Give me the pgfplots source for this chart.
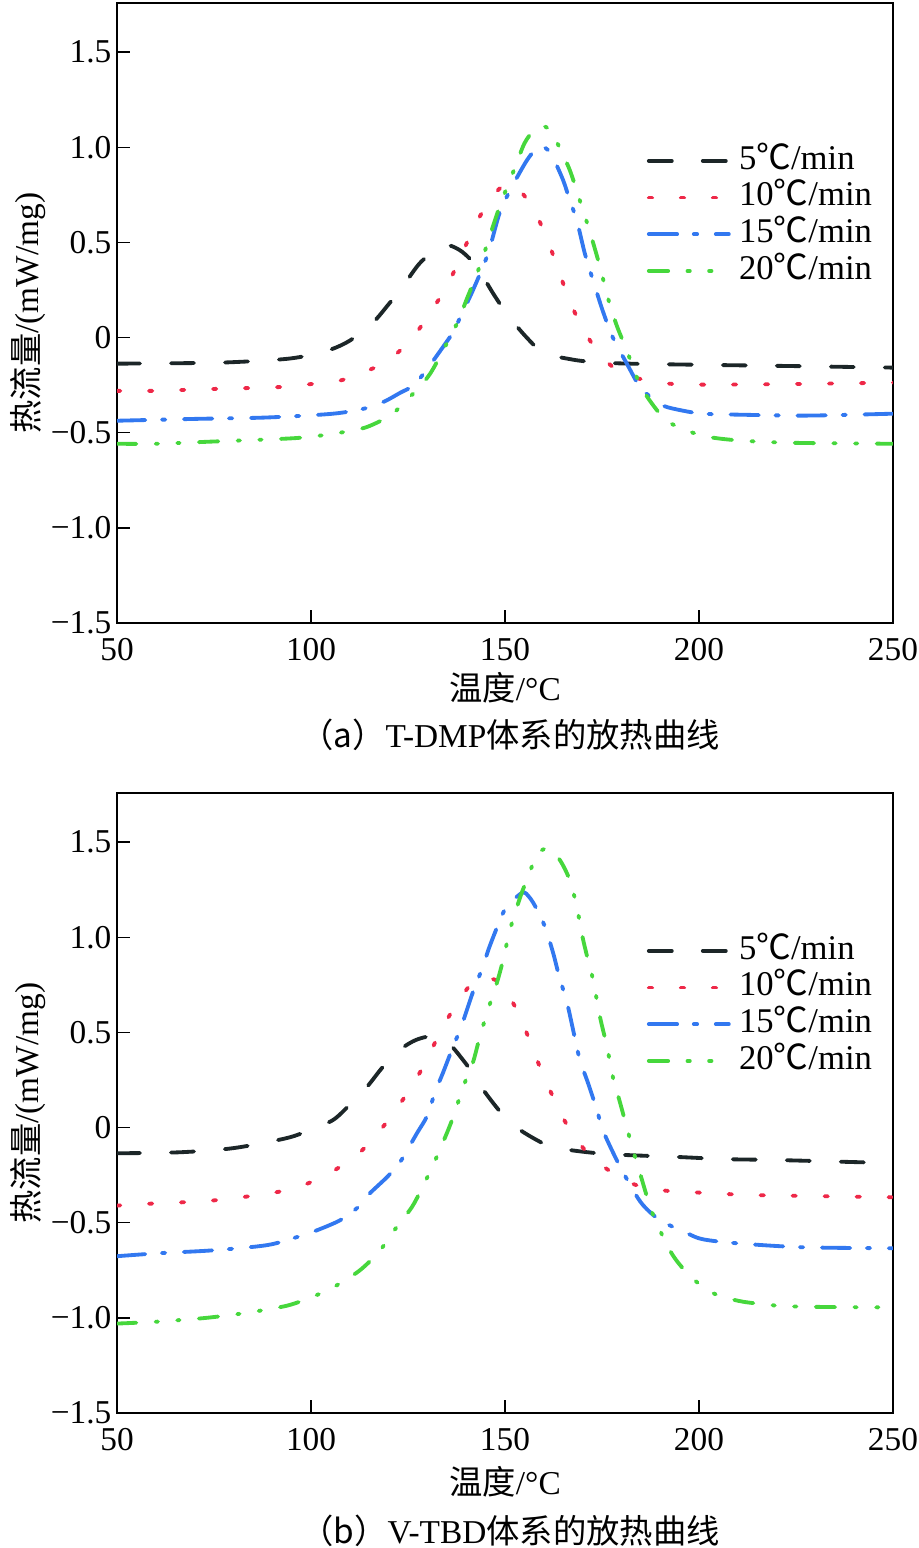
\documentclass[border=0pt]{standalone}
\usepackage{fontspec}
\setmainfont{Liberation Serif}
\newfontfamily\cjk{Noto Sans CJK SC}
\usepackage{pgfplots}
\pgfplotsset{compat=1.18}
\definecolor{cA}{RGB}{28,38,40}
\definecolor{cB}{RGB}{238,40,72}
\definecolor{cC}{RGB}{50,120,240}
\definecolor{cD}{RGB}{70,215,60}
\pgfplotsset{
 myax/.style={
  scale only axis, width=232.8pt, height=186pt,
  xmin=50, xmax=250, ymin=-1.5, ymax=1.758,
  xtick={50,100,150,200,250}, xticklabels={50,100,150,200,250},
  ytick={-1.5,-1,-0.5,0,0.5,1,1.5},
  yticklabels={−1.5,−1.0,−0.5,0,0.5,1.0,1.5},
  tick align=inside, major tick length=4pt, tick pos=left,
  axis line style={line width=0.45pt},
  every tick/.style={line width=0.45pt, black},
  ticklabel style={font=\fontsize{10}{12}\selectfont},
  yticklabel style={inner sep=0pt, xshift=-1.5pt},
  xticklabel style={inner sep=0pt, yshift=-4.5pt},
  legend style={draw=none, fill=none, at={(rel axis cs:0.682,0.776)}, anchor=north west,
    inner sep=0pt, row sep=0pt, font=\fontsize{10.4}{12}\selectfont,
    nodes={inner ysep=1pt, inner xsep=2.5pt, text height=7pt, text depth=2pt}},
  legend image code/.code={\draw[#1] (0pt,0pt) -- (24pt,0pt);},
  legend cell align=left,
 },
 sA/.style={cA, line width=1.15pt, line cap=round, dash pattern=on 6.9pt off 9.3pt, smooth},
 sB/.style={cB, line width=1.15pt, line cap=round, dash pattern=on 1pt off 8.6pt, smooth},
 sC/.style={cC, line width=1.15pt, line cap=round, dash pattern=on 8.5pt off 5pt on 1pt off 5.6pt, smooth},
 sD/.style={cD, line width=1.15pt, line cap=round, dash pattern=on 5.8pt off 5.8pt on 0.7pt off 5.8pt on 0.7pt off 5.8pt, smooth},
}
\begin{document}
\begin{tikzpicture}
\useasboundingbox (0,0) rectangle (275.7pt,-464.4pt);
% ---------- (a) ----------
\begin{axis}[myax, at={(35.1pt,-186.9pt)}, anchor=south west]
\addplot[sA] coordinates {(50,-0.137) (65,-0.135) (79,-0.13) (94.6,-0.11) (104,-0.07) (110,-0.016) (116,0.08) (120,0.175) (123.7,0.27) (128,0.39) (132.7,0.47) (135.5,0.485) (139,0.45) (142.8,0.37) (147,0.23) (150.8,0.116) (155.6,0) (160,-0.08) (167.5,-0.116) (173.7,-0.13) (182,-0.137) (200,-0.143) (225,-0.15) (250,-0.158)};
\addlegendentry{5{\cjk ℃}/min}
\addplot[sB] coordinates {(50,-0.28) (59,-0.28) (75,-0.27) (92,-0.26) (99.7,-0.245) (107.5,-0.226) (115,-0.17) (120,-0.12) (126,-0.005) (130.7,0.13) (135,0.27) (138.5,0.42) (142,0.58) (146,0.72) (149,0.79) (151.5,0.81) (154,0.77) (157.5,0.67) (160.8,0.52) (163.7,0.36) (166.5,0.2) (170,0.05) (174.5,-0.09) (180.4,-0.19) (189.4,-0.235) (198,-0.247) (220,-0.245) (250,-0.237)};
\addlegendentry{10{\cjk ℃}/min}
\addplot[sC] coordinates {(50,-0.437) (71,-0.427) (88.6,-0.42) (105.7,-0.4) (114.4,-0.37) (119,-0.335) (123,-0.29) (126.3,-0.253) (129.4,-0.18) (134,-0.05) (137,0.04) (138.4,0.105) (141.7,0.247) (145.6,0.44) (148.7,0.66) (152,0.8) (155.6,0.93) (158,0.99) (160,1.0) (162,0.96) (165,0.826) (166.7,0.72) (168.5,0.616) (170.6,0.44) (172.7,0.3) (175.2,0.14) (177.8,0) (181.4,-0.137) (184.8,-0.26) (188,-0.32) (191,-0.36) (195.8,-0.384) (201,-0.4) (209.8,-0.405) (227.8,-0.41) (250,-0.4)};
\addlegendentry{15{\cjk ℃}/min}
\addplot[sD] coordinates {(50,-0.558) (60,-0.558) (74,-0.547) (94.6,-0.53) (102,-0.516) (107.5,-0.5) (114.4,-0.47) (121,-0.4) (127,-0.28) (130.7,-0.19) (134.5,-0.05) (138,0.09) (140,0.195) (142.8,0.337) (145.3,0.484) (147.4,0.616) (149.5,0.737) (152.6,0.895) (155,1.02) (157.5,1.09) (160,1.11) (162,1.08) (164,1.0) (166.7,0.88) (169.3,0.72) (172,0.547) (174.5,0.37) (176.5,0.21) (178.8,0.063) (181.4,-0.068) (184,-0.21) (186.8,-0.316) (191.7,-0.437) (198.4,-0.5) (203.6,-0.526) (211.3,-0.542) (224,-0.553) (250,-0.558)};
\addlegendentry{20{\cjk ℃}/min}
\end{axis}
% ---------- (b) ----------
\begin{axis}[myax, at={(35.1pt,-423.9pt)}, anchor=south west]
\addplot[sA] coordinates {(50,-0.135) (66,-0.13) (80,-0.108) (93.8,-0.055) (100,-0.01) (105.7,0.04) (110,0.12) (114.4,0.213) (118.5,0.318) (123,0.41) (127,0.46) (131,0.48) (134,0.46) (136.6,0.42) (141.7,0.287) (144.8,0.187) (149.5,0.066) (153.9,-0.013) (160.8,-0.092) (166.7,-0.118) (177,-0.14) (195,-0.155) (207,-0.166) (220.9,-0.171) (250,-0.187)};
\addlegendentry{5{\cjk ℃}/min}
\addplot[sB] coordinates {(50,-0.41) (58.5,-0.4) (74.8,-0.383) (91,-0.34) (99,-0.295) (106,-0.225) (112.6,-0.13) (118.3,-0.003) (124.8,0.18) (128.9,0.32) (132.7,0.476) (136.6,0.62) (141.5,0.76) (145,0.785) (148.7,0.76) (153,0.62) (156,0.476) (159,0.318) (162.4,0.16) (166,0.013) (170.6,-0.118) (176.4,-0.22) (183.5,-0.3) (190.7,-0.33) (198.4,-0.34) (215,-0.355) (250,-0.366)};
\addlegendentry{10{\cjk ℃}/min}
\addplot[sC] coordinates {(50,-0.676) (61,-0.66) (74.8,-0.645) (88.6,-0.618) (96.3,-0.576) (101.5,-0.54) (107.5,-0.487) (111.8,-0.424) (115.2,-0.345) (119.6,-0.26) (123,-0.18) (127.3,-0.03) (129.9,0.06) (132,0.187) (134,0.287) (137,0.445) (138.4,0.51) (141.7,0.71) (144.3,0.845) (146,0.95) (149.5,1.128) (151.3,1.18) (154.6,1.235) (156.3,1.21) (158,1.155) (160.3,1.055) (162.4,0.918) (164,0.792) (166,0.655) (167.8,0.49) (169.3,0.355) (171.4,0.234) (173.7,0.092) (175.2,-0.013) (178.8,-0.171) (182.7,-0.318) (185.6,-0.408) (190,-0.487) (196.9,-0.555) (201,-0.587) (209.8,-0.608) (226.8,-0.629) (250,-0.634)};
\addlegendentry{15{\cjk ℃}/min}
\addplot[sD] coordinates {(50,-1.03) (60.3,-1.02) (73,-1.0) (83.5,-0.973) (93.8,-0.936) (100.5,-0.888) (105.7,-0.84) (112.6,-0.75) (117.8,-0.645) (122,-0.525) (126,-0.418) (128.6,-0.318) (131.4,-0.2) (135,-0.03) (137,0.076) (139.2,0.213) (141.7,0.34) (143.5,0.476) (145.6,0.618) (147.9,0.76) (149.5,0.88) (151.3,1.04) (153.9,1.21) (155.6,1.3) (158.2,1.43) (160.8,1.466) (164,1.41) (166.7,1.3) (168.5,1.16) (170,1.0) (171.4,0.88) (172.7,0.776) (174.5,0.58) (176.3,0.424) (177.8,0.266) (179.6,0.135) (181.4,0.0) (183,-0.118) (184.8,-0.24) (188,-0.45) (192.5,-0.645) (195.6,-0.734) (199.5,-0.813) (203.6,-0.87) (208,-0.9) (213,-0.92) (224,-0.94) (250,-0.945)};
\addlegendentry{20{\cjk ℃}/min}
\end{axis}
% ---------- labels ----------
\node[font=\fontsize{10}{12}\selectfont, rotate=90] at (8.4pt,-93.9pt) {{\cjk 热流量}/(mW/mg)};
\node[font=\fontsize{10}{12}\selectfont, rotate=90] at (8.4pt,-330.9pt) {{\cjk 热流量}/(mW/mg)};
\node[font=\fontsize{10}{12}\selectfont] at (151.5pt,-206.4pt) {{\cjk 温度}/°C};
\node[font=\fontsize{10}{12}\selectfont] at (151.5pt,-444.6pt) {{\cjk 温度}/°C};
\node[font=\fontsize{10}{12}\selectfont] at (153pt,-220.3pt) {{\cjk （a）}T-DMP{\cjk 体系的放热曲线}};
\node[font=\fontsize{10}{12}\selectfont] at (153pt,-459.3pt) {{\cjk （b）}V-TBD{\cjk 体系的放热曲线}};
\end{tikzpicture}
\end{document}
